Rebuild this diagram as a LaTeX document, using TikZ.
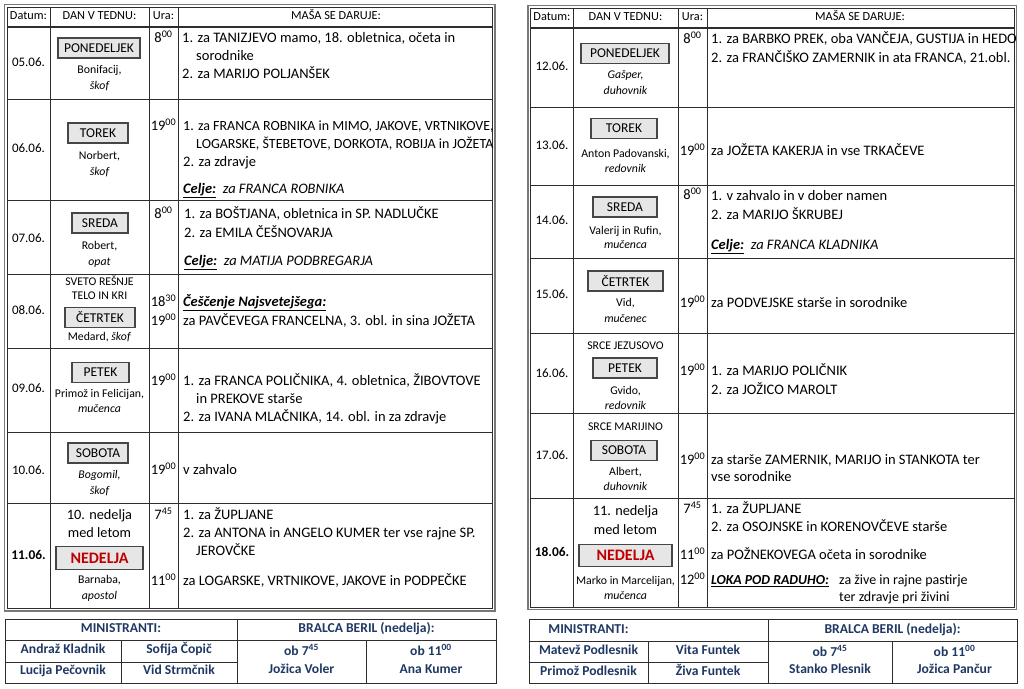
\documentclass[tikz,border=0pt]{standalone}
\usepackage{fontspec}
\setmainfont{Carlito}
\definecolor{gridc}{RGB}{45,45,45}
\definecolor{framec}{RGB}{120,120,120}
\definecolor{boxf}{RGB}{230,230,230}
\definecolor{boxd}{RGB}{70,70,70}
\definecolor{navyc}{RGB}{31,56,100}
\definecolor{redc}{RGB}{192,0,0}
\newcommand{\hup}[1]{\textsuperscript{#1}}
\newcommand{\celje}{\underline{\textbf{\textit{Celje:}}}}
\tikzset{
  grid/.style={draw=gridc, line width=0.8pt},
  hline/.style={draw=gridc, line width=1.6pt},
  frameo/.style={draw=framec, line width=1.6pt},
  thin/.style={draw=gridc, line width=0.9pt},
  daybox/.style={draw=boxd, fill=boxf, line width=1.1pt, font=\fontsize{13.5}{16}\selectfont,
    minimum height=20pt, inner xsep=1pt, inner ysep=0pt, anchor=center},
  sunbox/.style={daybox, minimum height=22.5pt, font=\fontsize{16}{18}\selectfont\bfseries, text=redc},
  txt/.style={anchor=mid west, inner sep=0pt, font=\fontsize{14.5}{17}\selectfont},
  txtc/.style={txt, font=\fontsize{14}{17}\selectfont},
  ura/.style={anchor=mid, inner sep=0pt, font=\fontsize{14.5}{17}\selectfont},
  saint/.style={anchor=mid, inner sep=0pt, font=\fontsize{11.8}{14}\selectfont},
  feast/.style={anchor=mid, inner sep=0pt, font=\fontsize{14.3}{17}\selectfont},
  hdr/.style={anchor=mid, inner sep=0pt, font=\fontsize{12.3}{14}\selectfont},
  datum/.style={anchor=mid, inner sep=0pt, font=\fontsize{13}{15}\selectfont},
  bot/.style={anchor=mid, inner sep=0pt, font=\fontsize{13.6}{15}\selectfont\bfseries, text=navyc}
}
\begin{document}
\begin{tikzpicture}[x=1pt,y=-1pt]
\useasboundingbox (0,0) rectangle (1024,688);
\fill[white] (0,0) rectangle (1024,688);

%================ LEFT TABLE =================
\draw[grid] (7,7) rectangle (492.5,608.5);
\draw[hline] (7,27) -- (492.5,27);
\foreach \y in {99,200,274,348,432,503} \draw[grid] (7,\y) -- (492.5,\y);
\foreach \x in {50,149,178} \draw[grid] (\x,7) -- (\x,608.5);
\draw[frameo] (4.5,4.5) rectangle (495,611);

\node[hdr] (Lh1) at (28.5,17) {Datum:};
\node[hdr] (Lh2) at (99.5,17) {DAN V TEDNU:};
\node[hdr] (Lh3) at (163.5,17) {Ura:};
\node[hdr] (Lh4) at (336,17) {MAŠA SE DARUJE:};

% 05.06
\node[datum] (Ld1) at (28.5,64) {05.06.};
\node[daybox, minimum width=82pt] (Lb1) at (99,48) {PONEDELJEK};
\node[saint] (Ls1a) at (99.5,71) {Bonifacij,};
\node[saint] (Ls1b) at (99.5,87) {\itshape škof};
\node[ura] (Lu1) at (163.5,40) {8\hup{00}};
\node[txt] (Lt1a) at (182,40) {1. za TANIZJEVO mamo, 18. obletnica, očeta in};
\node[txt] (Lt1b) at (196,58) {sorodnike};
\node[txt] (Lt1c) at (182,76) {2. za MARIJO POLJANŠEK};

% 06.06
\node[datum] (Ld2) at (28.5,150) {06.06.};
\node[daybox, minimum width=60pt] (Lb2) at (98,133) {TOREK};
\node[saint] (Ls2a) at (99.5,157) {Norbert,};
\node[saint] (Ls2b) at (99.5,173) {\itshape škof};
\node[ura] (Lu2) at (163.5,128) {19\hup{00}};
\node[txtc] (Lt2a) at (183,128) {1. za FRANCA ROBNIKA in MIMO, JAKOVE, VRTNIKOVE,};
\node[txtc] (Lt2b) at (196,146) {LOGARSKE, ŠTEBETOVE, DORKOTA, ROBIJA in JOŽETA};
\node[txt] (Lt2c) at (183,164) {2. za zdravje};
\node[txt] (Lt2d) at (183,191) {\celje\ \ \textit{za FRANCA ROBNIKA}};

% 07.06
\node[datum] (Ld3) at (28.5,240) {07.06.};
\node[daybox, minimum width=56pt] (Lb3) at (100,223) {SREDA};
\node[saint] (Ls3a) at (99.5,247) {Robert,};
\node[saint] (Ls3b) at (99.5,263) {\itshape opat};
\node[ura] (Lu3) at (163.5,216) {8\hup{00}};
\node[txt] (Lt3a) at (184,216) {1. za BOŠTJANA, obletnica in SP. NADLUČKE};
\node[txt] (Lt3b) at (184,235) {2. za EMILA ČEŠNOVARJA};
\node[txt] (Lt3c) at (184,263) {\celje\ \ \textit{za MATIJA PODBREGARJA}};

% 08.06
\node[datum] (Ld4) at (28.5,312) {08.06.};
\node[saint] (Lf4a) at (99.5,283) {SVETO REŠNJE};
\node[saint] (Lf4b) at (99.5,297) {TELO IN KRI};
\node[daybox, minimum width=70pt] (Lb4) at (100,317.5) {ČETRTEK};
\node[saint] (Ls4a) at (99.5,338) {Medard, \textit{škof}};
\node[ura] (Lu4a) at (163.5,304) {18\hup{30}};
\node[ura] (Lu4b) at (163.5,323) {19\hup{00}};
\node[txt] (Lt4a) at (183,304) {\underline{\textbf{\textit{Češčenje Najsvetejšega:}}}};
\node[txt] (Lt4b) at (183,323) {za PAVČEVEGA FRANCELNA, 3. obl. in sina JOŽETA};

% 09.06
\node[datum] (Ld5) at (28.5,390) {09.06.};
\node[daybox, minimum width=57pt] (Lb5) at (100.5,372.5) {PETEK};
\node[saint] (Ls5a) at (99.5,395) {Primož in Felicijan,};
\node[saint] (Ls5b) at (99.5,410) {\itshape mučenca};
\node[ura] (Lu5) at (163.5,383) {19\hup{00}};
\node[txt] (Lt5a) at (183,383) {1. za FRANCA POLIČNIKA, 4. obletnica, ŽIBOVTOVE};
\node[txt] (Lt5b) at (196,401) {in PREKOVE starše};
\node[txt] (Lt5c) at (183,419) {2. za IVANA MLAČNIKA, 14. obl. in za zdravje};

% 10.06
\node[datum] (Ld6) at (28.5,472) {10.06.};
\node[daybox, minimum width=60pt] (Lb6) at (98,453) {SOBOTA};
\node[saint] (Ls6a) at (99.5,476) {\itshape Bogomil,};
\node[saint] (Ls6b) at (99.5,492) {\itshape škof};
\node[ura] (Lu6) at (163.5,472) {19\hup{00}};
\node[txt] (Lt6a) at (183,472) {v zahvalo};

% 11.06
\node[datum, font=\fontsize{13.4}{15}\selectfont\bfseries] (Ld7) at (28.5,557) {11.06.};
\node[feast] (Lf7a) at (99.5,517) {10. nedelja};
\node[feast] (Lf7b) at (99.5,535) {med letom};
\node[sunbox, minimum width=87pt] (Lb7) at (99.5,558) {NEDELJA};
\node[saint] (Ls7a) at (99.5,581) {Barnaba,};
\node[saint] (Ls7b) at (99.5,597) {\itshape apostol};
\node[ura] (Lu7a) at (163.5,517) {7\hup{45}};
\node[ura] (Lu7b) at (163.5,583) {11\hup{00}};
\node[txt] (Lt7a) at (183,517) {1. za ŽUPLJANE};
\node[txt] (Lt7b) at (183,535) {2. za ANTONA in ANGELO KUMER ter vse rajne SP.};
\node[txt] (Lt7c) at (196,553) {JEROVČKE};
\node[txt] (Lt7d) at (183,583) {za LOGARSKE, VRTNIKOVE, JAKOVE in PODPEČKE};

%================ RIGHT TABLE =================
\draw[grid] (530.5,8) rectangle (1014,607);
\draw[hline] (530.5,28) -- (1014,28);
\foreach \y in {107,185,258,333,413,498} \draw[grid] (530.5,\y) -- (1014,\y);
\foreach \x in {573,678,707} \draw[grid] (\x,8) -- (\x,607);
\draw[frameo] (528,5.5) rectangle (1016.5,609.5);

\node[hdr] (Rh1) at (552,18) {Datum:};
\node[hdr] (Rh2) at (625.5,18) {DAN V TEDNU:};
\node[hdr] (Rh3) at (692.5,18) {Ura:};
\node[hdr] (Rh4) at (860,18) {MAŠA SE DARUJE:};

% 12.06
\node[datum] (Rd1) at (552,68) {12.06.};
\node[daybox, minimum width=88pt] (Rb1) at (625,53.5) {PONEDELJEK};
\node[saint] (Rs1a) at (625.5,76) {\itshape Gašper,};
\node[saint] (Rs1b) at (625.5,92) {\itshape duhovnik};
\node[ura] (Ru1) at (692.5,41) {8\hup{00}};
\node[txt] (Rt1a) at (711,41) {1. za BARBKO PREK, oba VANČEJA, GUSTIJA in HEDO};
\node[txt] (Rt1b) at (711,60) {2. za FRANČIŠKO ZAMERNIK in ata FRANCA, 21.obl.};

% 13.06
\node[datum] (Rd2) at (552,147) {13.06.};
\node[daybox, minimum width=66pt] (Rb2) at (624,128.5) {TOREK};
\node[saint] (Rs2a) at (625.5,155) {Anton Padovanski,};
\node[saint] (Rs2b) at (625.5,170) {\itshape redovnik};
\node[ura] (Ru2) at (692.5,153) {19\hup{00}};
\node[txt] (Rt2a) at (711,153) {za JOŽETA KAKERJA in vse TRKAČEVE};

% 14.06
\node[datum] (Rd3) at (552,222) {14.06.};
\node[daybox, minimum width=64pt] (Rb3) at (625,207) {SREDA};
\node[saint] (Rs3a) at (625.5,232) {Valerij in Rufin,};
\node[saint] (Rs3b) at (625.5,246) {\itshape mučenca};
\node[ura] (Ru3) at (692.5,197) {8\hup{00}};
\node[txt] (Rt3a) at (711,198) {1. v zahvalo in v dober namen};
\node[txt] (Rt3b) at (711,217) {2. za MARIJO ŠKRUBEJ};
\node[txt] (Rt3c) at (711,247) {\celje\ \ \textit{za FRANCA KLADNIKA}};

% 15.06
\node[datum] (Rd4) at (552,296) {15.06.};
\node[daybox, minimum width=75pt] (Rb4) at (625.5,281) {ČETRTEK};
\node[saint] (Rs4a) at (625.5,304) {Vid,};
\node[saint] (Rs4b) at (625.5,320) {\itshape mučenec};
\node[ura] (Ru4) at (692.5,305) {19\hup{00}};
\node[txt] (Rt4a) at (711,305) {za PODVEJSKE starše in sorodnike};

% 16.06
\node[datum] (Rd5) at (552,375) {16.06.};
\node[saint] (Rf5a) at (625.5,347) {SRCE JEZUSOVO};
\node[daybox, minimum width=64pt] (Rb5) at (625,368) {PETEK};
\node[saint] (Rs5a) at (625.5,392) {Gvido,};
\node[saint] (Rs5b) at (625.5,407) {\itshape redovnik};
\node[ura] (Ru5) at (692.5,373) {19\hup{00}};
\node[txt] (Rt5a) at (711,373) {1. za MARIJO POLIČNIK};
\node[txt] (Rt5b) at (711,392) {2. za JOŽICO MAROLT};

% 17.06
\node[datum] (Rd6) at (552,457) {17.06.};
\node[saint] (Rf6a) at (625.5,428) {SRCE MARIJINO};
\node[daybox, minimum width=66pt] (Rb6) at (624,450.5) {SOBOTA};
\node[saint] (Rs6a) at (625.5,473) {Albert,};
\node[saint] (Rs6b) at (625.5,488) {\itshape duhovnik};
\node[ura] (Ru6) at (692.5,462) {19\hup{00}};
\node[txt] (Rt6a) at (711,462) {za starše ZAMERNIK, MARIJO in STANKOTA ter};
\node[txt] (Rt6b) at (711,479) {vse sorodnike};

% 18.06
\node[datum, font=\fontsize{13.4}{15}\selectfont\bfseries] (Rd7) at (552,554) {18.06.};
\node[feast] (Rf7a) at (625.5,513) {11. nedelja};
\node[feast] (Rf7b) at (625.5,532) {med letom};
\node[sunbox, minimum width=93pt] (Rb7) at (625.5,555.5) {NEDELJA};
\node[saint] (Rs7a) at (625.5,582) {Marko in Marcelijan,};
\node[saint] (Rs7b) at (625.5,597) {\itshape mučenca};
\node[ura] (Ru7a) at (692.5,511) {7\hup{45}};
\node[ura] (Ru7b) at (692.5,557) {11\hup{00}};
\node[ura] (Ru7c) at (692.5,582) {12\hup{00}};
\node[txt] (Rt7a) at (711,511) {1. za ŽUPLJANE};
\node[txt] (Rt7b) at (711,529) {2. za OSOJNSKE in KORENOVČEVE starše};
\node[txt] (Rt7c) at (711,557) {za POŽNEKOVEGA očeta in sorodnike};
\node[txt, font=\fontsize{13.8}{16}\selectfont] (Rt7d) at (711,582) {\underline{\textbf{\textit{LOKA POD RADUHO:}}}};
\node[txt, font=\fontsize{14}{16}\selectfont] (Rt7e) at (839,582) {za žive in rajne pastirje};
\node[txt, font=\fontsize{14}{16}\selectfont] (Rt7f) at (839,599) {ter zdravje pri živini};

%================ BOTTOM BOXES =================
\draw[thin] (5,619) rectangle (496,683.5);
\draw[thin] (5,640) -- (496,640);
\draw[thin] (5,662) -- (237,662);
\draw[thin] (121,640) -- (121,683.5);
\draw[thin] (237,619) -- (237,683.5);
\draw[thin] (366,640) -- (366,683.5);
\node[bot] (LBm) at (121,630) {MINISTRANTI:};
\node[bot] (LBb) at (366.5,630) {BRALCA BERIL (nedelja):};
\node[bot] (LBn1) at (63,651) {Andraž Kladnik};
\node[bot] (LBn2) at (179,651) {Sofija Čopič};
\node[bot] (LBn3) at (63,672) {Lucija Pečovnik};
\node[bot] (LBn4) at (179,672) {Vid Strmčnik};
\node[bot] (LBo1) at (301.5,653) {ob 7\hup{45}};
\node[bot] (LBr1) at (301.5,671) {Jožica Voler};
\node[bot] (LBo2) at (431,653) {ob 11\hup{00}};
\node[bot] (LBr2) at (431,671) {Ana Kumer};

\draw[thin] (529,619) rectangle (1017,683.5);
\draw[thin] (529,641) -- (1017,641);
\draw[thin] (529,662) -- (768,662);
\draw[thin] (648,641) -- (648,683.5);
\draw[thin] (768,619) -- (768,683.5);
\draw[thin] (892,641) -- (892,683.5);
\node[bot] (RBm) at (588.5,631) {MINISTRANTI:};
\node[bot] (RBb) at (892.5,631) {BRALCA BERIL (nedelja):};
\node[bot] (RBn1) at (588.5,652) {Matevž Podlesnik};
\node[bot] (RBn2) at (708,652) {Vita Funtek};
\node[bot] (RBn3) at (588.5,673) {Primož Podlesnik};
\node[bot] (RBn4) at (708,673) {Živa Funtek};
\node[bot] (RBo1) at (830,654) {ob 7\hup{45}};
\node[bot] (RBr1) at (830,671) {Stanko Plesnik};
\node[bot] (RBo2) at (954.5,654) {ob 11\hup{00}};
\node[bot] (RBr2) at (954.5,671) {Jožica Pančur};
\end{tikzpicture}
\end{document}
